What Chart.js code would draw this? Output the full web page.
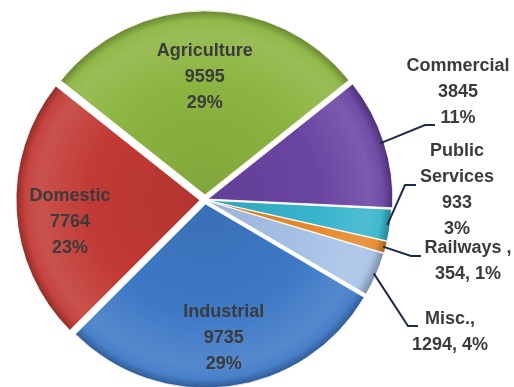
<!DOCTYPE html>
<html lang="en">
<head>
  <meta charset="UTF-8">
  <title>Consumption by Sector</title>
  <script src="https://cdn.jsdelivr.net/npm/chart.js"></script>
  <style>
    html, body { margin: 0; padding: 0; background: #fff; }
    #wrap { width: 514px; height: 387px; }
  </style>
</head>
<body>
  <div id="wrap"><canvas id="sectorChart" width="514" height="387"></canvas></div>

  <script>
    // Sectors, clockwise from the top
    const sectors = ['Agriculture', 'Commercial', 'Public Services', 'Railways', 'Misc.', 'Industrial', 'Domestic'];
    const consumption = [9595, 3845, 933, 354, 1294, 9735, 7764];
    const shares = ['29%', '11%', '3%', '1%', '4%', '29%', '23%'];

    const sliceColors = ['#8cb440', '#6a44a2', '#36b4cc', '#e6892b', '#a8c2e6', '#3e79c6', '#c23a35'];

    // Text of each label, line by line
    const labelLines = [
      ['Agriculture', '9595', '29%'],
      ['Commercial', '3845', '11%'],
      ['Public', 'Services', '933', '3%'],
      ['Railways ,', '354, 1%'],
      ['Misc.,', '1294, 4%'],
      ['Industrial', '9735', '29%'],
      ['Domestic', '7764', '23%']
    ];

    // Big slices carry their label inside (share of the radius, turn in degrees),
    // small ones get a leader line out to the right
    const inside = {
      0: { ratio: 0.67, turn: 0 },
      5: { ratio: 0.757, turn: -0.5 },
      6: { ratio: 0.743, turn: -6 }
    };
    const callouts = {
      1: { elbow: [425, 125], end: [435, 125], textX: 458, textY: 66 },
      2: { elbow: [405, 185], end: [416, 185], textX: 457, textY: 151 },
      3: { elbow: [411, 256], end: [421, 256], textX: 468, textY: 248 },
      4: { elbow: [408, 326], end: [418, 326], textX: 450, textY: 319 }
    };
    const lineGap = 26;
    const pieRadius = 184;

    function mix(hex, target, amount) {
      const n = parseInt(hex.slice(1), 16);
      const r = (n >> 16) & 255, g = (n >> 8) & 255, b = n & 255;
      const t = target === 'white' ? 255 : 0;
      const m = c => Math.round(c + (t - c) * amount);
      return `rgb(${m(r)}, ${m(g)}, ${m(b)})`;
    }

    // Radial shading so the slices look a bit bevelled
    function shade(context) {
      const base = sliceColors[context.dataIndex];
      const chart = context.chart;
      const area = chart.chartArea;
      if (!area) return base;
      const cx = (area.left + area.right) / 2;
      const cy = (area.top + area.bottom) / 2;
      const g = chart.ctx.createRadialGradient(cx, cy, 0, cx, cy, pieRadius);
      g.addColorStop(0, mix(base, 'black', 0.08));
      g.addColorStop(0.6, base);
      g.addColorStop(0.88, mix(base, 'white', 0.12));
      g.addColorStop(0.95, mix(base, 'white', 0.05));
      g.addColorStop(1, mix(base, 'black', 0.25));
      return g;
    }

    const sliceLabels = {
      id: 'sliceLabels',
      afterDatasetsDraw(chart) {
        const ctx = chart.ctx;
        const arcs = chart.getDatasetMeta(0).data;
        ctx.save();
        ctx.font = 'bold 18px "Liberation Sans", Arial, sans-serif';
        ctx.fillStyle = '#3b3b3b';
        ctx.textAlign = 'center';
        ctx.textBaseline = 'middle';

        arcs.forEach((arc, i) => {
          const { x, y, startAngle, endAngle, outerRadius } = arc.getProps(['x', 'y', 'startAngle', 'endAngle', 'outerRadius'], true);
          const mid = (startAngle + endAngle) / 2;
          const lines = labelLines[i];

          if (inside[i]) {
            const a = mid + inside[i].turn * Math.PI / 180;
            const rr = outerRadius * inside[i].ratio;
            const lx = x + Math.cos(a) * rr;
            const ly = y + Math.sin(a) * rr;
            const top = ly - (lines.length - 1) * lineGap / 2;
            lines.forEach((t, k) => ctx.fillText(t, lx, top + k * lineGap));
            return;
          }

          const c = callouts[i];
          if (!c) return;
          const ex = x + Math.cos(mid) * outerRadius;
          const ey = y + Math.sin(mid) * outerRadius;
          ctx.strokeStyle = '#1f2b4a';
          ctx.lineWidth = 2;
          ctx.beginPath();
          ctx.moveTo(ex, ey);
          ctx.lineTo(c.elbow[0], c.elbow[1]);
          ctx.lineTo(c.end[0], c.end[1]);
          ctx.stroke();
          lines.forEach((t, k) => ctx.fillText(t, c.textX, c.textY + k * lineGap));
        });
        ctx.restore();
      }
    };

    const chart = new Chart(document.getElementById('sectorChart'), {
      type: 'pie',
      data: {
        labels: sectors,
        datasets: [{
          data: consumption,
          backgroundColor: shade,
          borderColor: 'rgba(255, 255, 255, 0.85)',
          borderWidth: 1,
          offset: [20, 12, 6, 6, 6, 16, 20]
        }]
      },
      options: {
        responsive: false,
        animation: false,
        rotation: -51.6,
        radius: pieRadius,
        layout: { padding: { top: 14, bottom: 1, left: 19, right: 123 } },
        plugins: {
          legend: { display: false },
          tooltip: { enabled: false }
        }
      },
      plugins: [sliceLabels]
    });
  </script>
</body>
</html>
